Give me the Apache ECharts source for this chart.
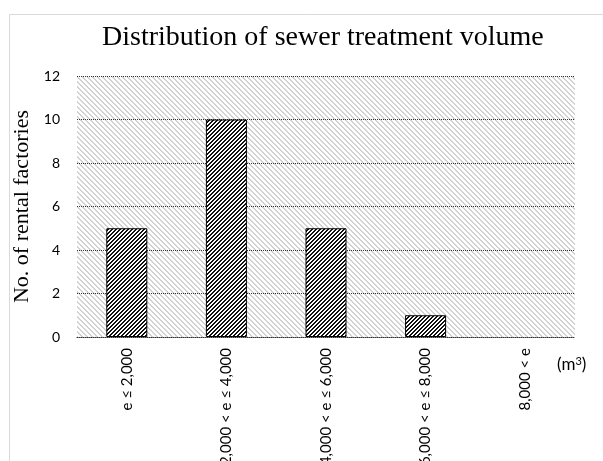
<!DOCTYPE html>
<html>
<head>
<meta charset="utf-8">
<script src="https://cdn.jsdelivr.net/npm/echarts@6/dist/echarts.min.js"></script>
<style>
  html, body { margin: 0; padding: 0; background: #fff; }
  #chart { width: 603px; height: 461px; }
</style>
</head>
<body>
<div id="chart"></div>
<script>
// Sewer treatment volume bands (m³) and number of rental factories in each
const categories = ['e ≤ 2,000', '2,000 < e ≤ 4,000', '4,000 < e ≤ 6,000', '6,000 < e ≤ 8,000', '8,000 < e'];
const factoryCounts = [5, 10, 5, 1, 0];
const yTicks = { min: 0, max: 12, interval: 2 };

// Build a repeating diagonal-stripe tile.
// dir = 1 draws "/" stripes, dir = -1 draws "\" stripes.
function stripeTile(period, width, color, dir) {
  const c = document.createElement('canvas');
  c.width = period; c.height = period;
  const ctx = c.getContext('2d');
  ctx.fillStyle = '#ffffff';
  ctx.fillRect(0, 0, period, period);
  ctx.fillStyle = color;
  for (let y = 0; y < period; y++) {
    for (let x = 0; x < period; x++) {
      const k = dir > 0 ? (x + y) : (x - y + period * 4);
      if (k % period < width) ctx.fillRect(x, y, 1, 1);
    }
  }
  return c;
}

const barPattern = { image: stripeTile(4, 2, '#111111', 1), repeat: 'repeat' };
const plotPattern = { image: stripeTile(5, 2, '#d2d2d2', -1), repeat: 'repeat' };

const chart = echarts.init(document.getElementById('chart'), null, { renderer: 'canvas' });

const dottedLine = { color: '#333333', width: 1, type: [1, 1] };
const sansFont = 'Lato, "Open Sans", sans-serif';
const serifFont = '"Liberation Serif", "Times New Roman", serif';

// Zero-height bars get no outline so nothing is drawn for them
const barData = factoryCounts.map(v => v === 0 ? { value: v, itemStyle: { borderWidth: 0 } } : v);

chart.setOption({
  animation: false,
  backgroundColor: '#ffffff',
  graphic: [{
    type: 'rect',
    shape: { x: 9.5, y: 14.5, width: 620, height: 470 },
    style: { fill: 'none', stroke: '#d9d9d9', lineWidth: 1 },
    silent: true,
    z: -10
  }],
  title: {
    text: 'Distribution of sewer treatment volume',
    left: 102,
    top: 24,
    padding: 0,
    textStyle: {
      fontFamily: serifFont,
      fontSize: 28,
      fontWeight: 'normal',
      color: '#000000'
    }
  },
  grid: {
    left: 77,
    right: 28,
    top: 76,
    bottom: 124,
    containLabel: false,
    outerBoundsMode: 'none',
    show: true,
    borderWidth: 0,
    backgroundColor: plotPattern
  },
  xAxis: {
    type: 'category',
    data: categories,
    axisLine: { show: true, lineStyle: dottedLine },
    axisTick: { show: false },
    axisLabel: {
      rotate: 90,
      margin: 11,
      interval: 0,
      fontFamily: sansFont,
      fontSize: 15,
      color: '#000000'
    },
    name: '(m{sup|3})',
    nameLocation: 'end',
    nameGap: -18,
    nameTextStyle: {
      fontFamily: sansFont,
      fontSize: 17,
      color: '#000000',
      align: 'left',
      verticalAlign: 'top',
      padding: [19, 0, 0, 0],
      rich: {
        sup: {
          fontFamily: sansFont,
          fontSize: 11,
          color: '#000000',
          verticalAlign: 'top',
          padding: [0, 0, 7, 0]
        }
      }
    }
  },
  yAxis: {
    type: 'value',
    min: yTicks.min,
    max: yTicks.max,
    interval: yTicks.interval,
    axisLine: { show: false },
    axisTick: { show: false },
    splitLine: { show: true, lineStyle: dottedLine },
    axisLabel: {
      margin: 17,
      fontFamily: sansFont,
      fontSize: 14,
      color: '#000000'
    },
    name: 'No. of rental factories',
    nameLocation: 'middle',
    nameGap: 41,
    nameTextStyle: {
      fontFamily: serifFont,
      fontSize: 22,
      color: '#000000'
    }
  },
  series: [{
    type: 'bar',
    data: barData,
    barWidth: 41,
    itemStyle: {
      color: barPattern,
      borderColor: '#000000',
      borderWidth: 1
    }
  }]
});
</script>
</body>
</html>
